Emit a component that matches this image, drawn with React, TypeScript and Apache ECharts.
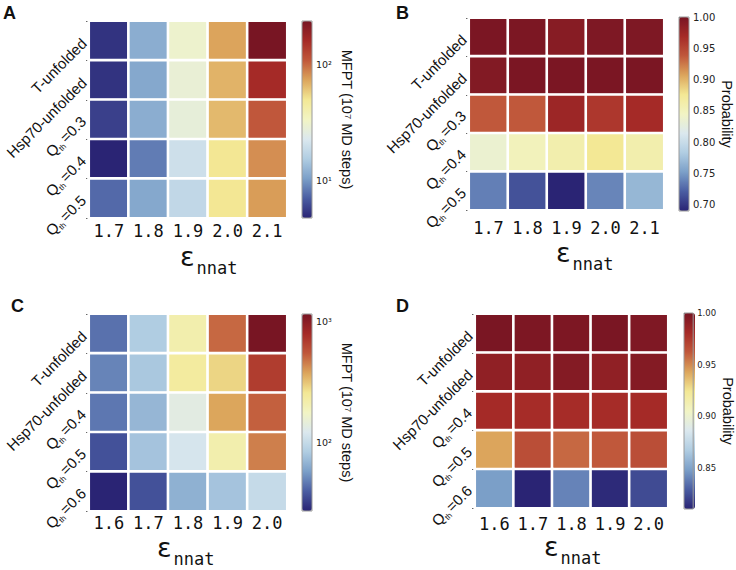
import React, { useEffect, useRef } from 'react';
import * as echarts from 'echarts';

// ---- data ----
const rowLabelsAB = ['T-unfolded', 'Hsp70-unfolded', 'Q_th=0.3', 'Q_th=0.4', 'Q_th=0.5'];
const rowLabelsCD = ['T-unfolded', 'Hsp70-unfolded', 'Q_th=0.4', 'Q_th=0.5', 'Q_th=0.6'];
const epsAB = ['1.7', '1.8', '1.9', '2.0', '2.1'];
const epsCD = ['1.6', '1.7', '1.8', '1.9', '2.0'];

// MFPT (10^7 MD steps), rows top -> bottom
const mfptA = [
  [5.2, 11.6, 31, 74, 240],
  [5.2, 11.1, 28.6, 68, 162],
  [5.7, 11.6, 27.5, 65.5, 110],
  [4.7, 8.4, 20, 50, 83],
  [7.5, 11.1, 17.8, 50, 77],
];
const probB = [
  [0.998, 0.997, 0.99, 0.996, 0.996],
  [0.993, 0.998, 0.998, 0.998, 0.998],
  [0.938, 0.938, 0.975, 0.96, 0.969],
  [0.836, 0.851, 0.86, 0.876, 0.86],
  [0.737, 0.715, 0.69, 0.74, 0.768],
];
const mfptC = [
  [44, 83, 212, 503, 1150],
  [49, 80, 237, 286, 677],
  [45.5, 69, 135, 372, 522],
  [36.4, 77, 116, 212, 449],
  [27, 36.4, 66, 77, 100],
];
const probD = [
  [0.999, 0.998, 0.998, 0.999, 0.997],
  [0.99, 0.99, 0.995, 0.99, 0.995],
  [0.981, 0.98, 0.98, 0.98, 0.981],
  [0.943, 0.966, 0.958, 0.962, 0.966],
  [0.848, 0.81, 0.84, 0.812, 0.823],
];

const rangeA = [4.7, 240];
const rangeB = [0.69, 1.0];
const rangeC = [27, 1150];
const rangeD = [0.81, 1.0];

const ticksA = [10, 100];
const ticksB = [0.7, 0.75, 0.8, 0.85, 0.9, 0.95, 1.0];
const ticksC = [100, 1000];
const ticksD = [0.85, 0.9, 0.95, 1.0];

const colormap = ['#2a2474', '#4a5da2', '#7b9fc8', '#b0cde2', '#dbe8ee', '#f2f4c4', '#f3e895', '#dca55c', '#c0583b', '#a52a27', '#781523'];

// ---- layout ----
const panels = [
  { letter: 'A', rows: rowLabelsAB, cols: epsAB, values: mfptA, log: true, range: rangeA, ticks: ticksA, name: 'MFPT (10⁷ MD steps)',
    letterPos: [3, 4], grid: { left: 89, top: 21, width: 198, height: 197 }, cb: { left: 302, top: 21, width: 10, height: 197 },
    xMargin: 4, nameGap: 27, cbFont: 9.5, eps: [180, 243] },
  { letter: 'B', rows: rowLabelsAB, cols: epsAB, values: probB, log: false, range: rangeB, ticks: ticksB, name: 'Probability',
    letterPos: [396, 4], grid: { left: 469, top: 18, width: 195, height: 192 }, cb: { left: 679, top: 17, width: 10, height: 194 },
    xMargin: 9, nameGap: 21, cbFont: 10, eps: [556, 239] },
  { letter: 'C', rows: rowLabelsCD, cols: epsCD, values: mfptC, log: true, range: rangeC, ticks: ticksC, name: 'MFPT (10⁷ MD steps)',
    letterPos: [11, 297], grid: { left: 89, top: 314, width: 198, height: 197 }, cb: { left: 302, top: 314, width: 10, height: 197 },
    xMargin: 3, nameGap: 27, cbFont: 9.5, eps: [157, 534] },
  { letter: 'D', rows: rowLabelsCD, cols: epsCD, values: probD, log: false, range: rangeD, ticks: ticksD, name: 'Probability',
    letterPos: [396, 297], grid: { left: 475, top: 314, width: 193, height: 194 }, cb: { left: 684, top: 313, width: 11, height: 196 },
    xMargin: 7, nameGap: 25, cbFont: 8.5, eps: [544, 533] },
];

const SUP: Record<string, string> = { '0': '⁰', '1': '¹', '2': '²', '3': '³', '4': '⁴', '5': '⁵', '6': '⁶', '7': '⁷', '8': '⁸', '9': '⁹', '-': '⁻' };
const pow10Label = (e: number) => '10' + String(Math.round(e)).split('').map((c) => SUP[c]).join('');

const SANS = 'Liberation Sans, Arial, sans-serif';
const MONO = 'DejaVu Sans Mono, monospace';

function buildOption() {
  const grid: any[] = [];
  const xAxis: any[] = [];
  const yAxis: any[] = [];
  const series: any[] = [];
  const visualMap: any[] = [];
  const graphic: any[] = [];

  panels.forEach((p, i) => {
    const gi = 2 * i;
    const ci = 2 * i + 1;
    const tf = (v: number) => (p.log ? Math.log10(v) : v);

    grid.push({ ...p.grid, containLabel: false });
    grid.push({ ...p.cb, containLabel: false, show: true, z: 10, borderColor: '#9a9a9a', borderWidth: 1, backgroundColor: 'transparent' });

    xAxis.push({
      type: 'category', gridIndex: gi, data: p.cols,
      axisLine: { show: false }, axisTick: { show: false }, splitLine: { show: false },
      axisLabel: { interval: 0, margin: p.xMargin, fontFamily: MONO, fontSize: 17, color: '#111' },
    });
    xAxis.push({ type: 'value', gridIndex: ci, min: 0, max: 1, show: false });

    yAxis.push({
      type: 'category', gridIndex: gi, data: p.rows, inverse: true,
      axisLine: { show: false }, splitLine: { show: false },
      axisTick: { show: true, length: 3, lineStyle: { color: '#666', width: 1 } },
      axisLabel: {
        interval: 0, rotate: 45, margin: 5, color: '#111',
        formatter: (v: string) => (v.startsWith('Q_th') ? `{q|Q}{t|th}{r|${v.slice(4)}}` : `{r|${v}}`),
        rich: {
          q: { fontSize: 15, fontFamily: SANS, color: '#111', verticalAlign: 'top' },
          t: { fontSize: 8, fontFamily: SANS, color: '#111', verticalAlign: 'top', padding: [9, 2, 0, 0] },
          r: { fontSize: 15, fontFamily: SANS, color: '#111', verticalAlign: 'top' },
        },
      },
    });
    yAxis.push({
      type: 'value', gridIndex: ci, position: 'right',
      min: tf(p.range[0]), max: tf(p.range[1]),
      axisLine: { show: false }, splitLine: { show: false },
      axisTick: { show: true, length: 3, lineStyle: { color: '#333' }, customValues: p.ticks.map(tf) },
      axisLabel: {
        customValues: p.ticks.map(tf), margin: 4, fontSize: p.cbFont, fontFamily: 'DejaVu Sans, sans-serif', color: '#222',
        formatter: (v: number) => (p.log ? pow10Label(v) : v.toFixed(2)),
      },
      name: p.name, nameLocation: 'middle', nameRotate: -90, nameGap: p.nameGap,
      nameTextStyle: { fontSize: 14.5, fontFamily: SANS, color: '#111' },
    });

    const data: any[] = [];
    p.values.forEach((row, r) => row.forEach((v, c) => data.push([c, r, tf(v)])));
    const si = series.length;
    series.push({
      type: 'heatmap', xAxisIndex: gi, yAxisIndex: gi, data,
      itemStyle: { borderColor: '#ffffff', borderWidth: 2.6 },
      emphasis: { disabled: true },
    });
    series.push({ type: 'line', xAxisIndex: ci, yAxisIndex: ci, data: [], silent: true });

    visualMap.push({
      type: 'continuous', seriesIndex: si, dimension: 2,
      min: tf(p.range[0]), max: tf(p.range[1]),
      inRange: { color: colormap },
      calculable: false, orient: 'vertical', padding: 0,
      left: p.cb.left, top: p.cb.top, itemWidth: p.cb.width, itemHeight: p.cb.height,
      text: null, hoverLink: false,
    });

    graphic.push({
      type: 'text', left: p.letterPos[0], top: p.letterPos[1],
      style: { text: p.letter, fontSize: 18, fontWeight: 'bold', fontFamily: SANS, fill: '#111' },
    });
    graphic.push({
      type: 'text', x: p.eps[0], y: p.eps[1],
      style: {
        text: '{e|ε}{s|nnat}', verticalAlign: 'top', fill: '#111',
        rich: {
          e: { fontSize: 27, fontFamily: 'DejaVu Sans, sans-serif', verticalAlign: 'top', fill: '#111' },
          s: { fontSize: 17, fontFamily: MONO, verticalAlign: 'top', padding: [16, 0, 0, 2], fill: '#111' },
        },
      },
    });
  });

  return { animation: false, backgroundColor: '#ffffff', grid, xAxis, yAxis, series, visualMap, graphic };
}

export default function App() {
  const ref = useRef<HTMLDivElement>(null);
  useEffect(() => {
    if (!ref.current) return;
    const chart = echarts.init(ref.current, null, { renderer: 'svg' });
    chart.setOption(buildOption() as any);
    return () => chart.dispose();
  }, []);
  return <div ref={ref} style={{ position: 'fixed', left: 0, top: 0, width: 736, height: 570, background: '#fff' }} />;
}
